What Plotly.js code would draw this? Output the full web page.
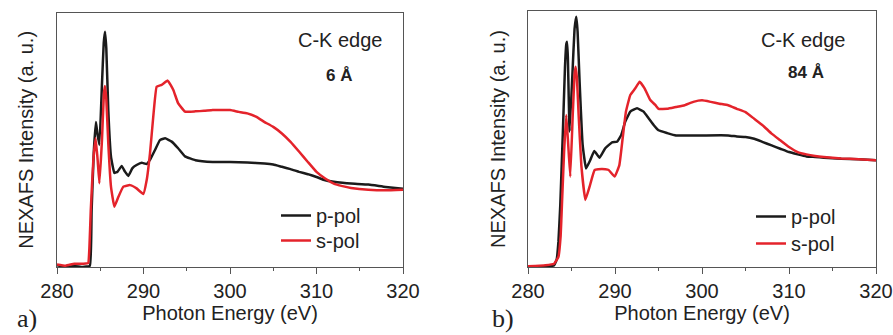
<!DOCTYPE html>
<html>
<head>
<meta charset="utf-8">
<script src="https://cdn.plot.ly/plotly-3.0.1.min.js"></script>
<style>html,body{margin:0;padding:0;background:#fff;}#chart{width:893px;height:335px;}</style>
</head>
<body>
<div id="chart"></div>
<script>
// Panel a) 6 Å — p-pol
const eA_p = [280,281,282,283,283.8,284.0,284.25,284.5,284.65,284.9,285.2,285.4,285.55,285.7,285.93,286.24,286.63,287.0,287.48,287.86,288.25,288.7,289.2,289.8,290.37,290.75,291.33,291.9,292.5,293.26,294.0,294.8,296,298,300,302,304,305,306,307,308,309,310,311,312,313,314,316,318,320];
const iA_p = [0.7,0,0.4,0,0.5,22,45,57,53,48,72,88,92.5,86,61.7,43.4,37,37.5,39.7,37.5,35.8,38.8,40.1,41,40.5,42.1,46,49.9,50.6,49.3,46.7,43.5,42,41.3,41.3,41.1,40.7,40.3,39.4,38.5,37.4,36.5,35.4,34.1,33.5,33.1,32.8,32.4,31.5,30.8];
// Panel a) 6 Å — s-pol
const eA_s = [280,281,282,283,283.6,283.75,283.9,284.2,284.47,284.7,284.9,285.2,285.42,285.55,285.7,285.93,286.24,286.63,287.1,287.67,288.44,289.2,289.98,290.37,290.75,291.13,291.52,292.1,292.8,293.45,294.0,294.8,296,297,298,299,300,301,302,303,304,305,306,307,308,309,310,311,312,313,314,316,318,320];
const iA_s = [1,0.5,1.3,1.3,1.5,8,22,42,50.6,42,32.9,50,68,71.2,66,48.6,31.6,23.7,27.6,31.6,32.2,30.9,28.7,34.2,44.7,59.1,70.9,71.6,73.3,69.6,64.4,61.1,61.2,61.4,61.7,61.7,61.7,61,60.4,59.1,57,55.1,52.5,49.2,45.3,41.3,37.4,34.8,32.8,31.8,31.1,30.4,30.2,30.4];
// Panel b) 84 Å — p-pol
const eB_p = [280,282,283,283.3,283.5,283.71,284.0,284.25,284.4,284.48,284.58,284.78,285.1,285.35,285.55,285.7,285.93,286.28,286.67,287.16,287.62,288.23,288.88,289.66,290.23,290.72,291.18,291.76,292.53,293.29,293.86,294.44,295,296,297,300,303,304,305,306,307,308,309,310,311,312,313,314,316,318,320];
const iB_p = [0,0,0.7,3,10,24.2,52,78,87,88,82,52.9,75,93,97.8,92,72.4,47.7,38.5,41.8,45.3,42.7,46.4,48.7,48.9,51.6,56.8,60.7,62,60.7,58.1,55.5,53.4,52.3,51.4,51.4,51.4,51,50.8,50.1,48.8,47.5,46.2,44.9,44,43.2,43,42.7,42.3,42.1,41.7];
// Panel b) 84 Å — s-pol
const eB_s = [280,282,283,283.5,283.75,283.9,284.15,284.4,284.62,284.86,285.15,285.35,285.47,285.62,285.82,286.13,286.59,287.08,287.66,288.5,289.27,289.96,290.5,290.88,291.26,291.76,292.33,292.83,293.4,294.06,294.63,295,296,297,298,299,300,301,302,303,304,305,306,307,308,309,310,311,312,313,314,316,318,320];
const iB_s = [0.3,0.7,1.3,4,12,24.2,45,59.4,48,35.3,60,75,78.2,74,59.4,39.8,26.2,31.4,37.9,38.3,37.9,35.3,39.8,50.3,60.7,67.2,69.8,72.4,69.8,65.2,63.3,61.8,61.8,62.5,63.2,64.5,65.1,64.5,63.8,63.2,61.8,60.5,57.9,55.3,52.1,49.5,46.9,44.9,44,43.4,43,42.4,42.1,41.7];

const seriesNames = ['p-pol','s-pol'];
const panelLabels = ['a)','b)'];
const thickness = ['6 Å','84 Å'];
const edgeLabel = 'C-K edge';
const xTitle = 'Photon Energy (eV)';
const yTitle = 'NEXAFS Intensity (a. u.)';

const BLACK = '#1b1b1b', RED = '#e4232b';
const FONT = 'Liberation Sans, Arial, sans-serif';
const LINE = {width:2.5, shape:'spline', smoothing:0.3};

const traces = [
  {x:eA_p, y:iA_p, name:seriesNames[0], xaxis:'x', yaxis:'y', legend:'legend', mode:'lines', line:Object.assign({color:BLACK}, LINE)},
  {x:eA_s, y:iA_s, name:seriesNames[1], xaxis:'x', yaxis:'y', legend:'legend2', mode:'lines', line:Object.assign({color:RED}, LINE)},
  {x:eB_p, y:iB_p, name:seriesNames[0], xaxis:'x2', yaxis:'y2', legend:'legend3', mode:'lines', line:Object.assign({color:BLACK}, LINE)},
  {x:eB_s, y:iB_s, name:seriesNames[1], xaxis:'x2', yaxis:'y2', legend:'legend4', mode:'lines', line:Object.assign({color:RED}, LINE)}
];

const W = 893, H = 335, MT = 11, MB = 68, PH = H - MT - MB;
const px = v => v / W;
const py = v => (H - MB - v) / PH;

function xax(dom, anchor) {
  return {domain:dom, anchor:anchor, range:[280,320], dtick:10, tick0:280, ticks:'outside', ticklen:6, tickwidth:1, tickcolor:'#555',
    minor:{dtick:5, ticks:'outside', ticklen:3, tickcolor:'#555'},
    showline:true, linecolor:'#555', linewidth:1, mirror:true, showgrid:false, zeroline:false,
    tickfont:{family:FONT, size:20, color:'#222'},
    title:{text:xTitle, font:{family:FONT, size:20, color:'#222'}, standoff:4}};
}
function topax(over, anchor) {
  return {overlaying:over, anchor:anchor, side:'top', range:[280,320], dtick:10, tick0:280, ticks:'inside', ticklen:6, tickcolor:'#555',
    minor:{dtick:5, ticks:'inside', ticklen:3, tickcolor:'#555'}, showticklabels:false, showline:false, showgrid:false, zeroline:false};
}
function yax(dom, anchor) {
  return {domain:dom, anchor:anchor, range:[0,100], showticklabels:false, ticks:'', showline:true, linecolor:'#555', linewidth:1, mirror:true,
    showgrid:false, zeroline:false, title:{text:yTitle, font:{family:FONT, size:20, color:'#222'}, standoff:16}};
}
function leg(xp, ytop) {
  return {x:px(xp), xanchor:'left', y:py(ytop), yanchor:'top', bgcolor:'rgba(0,0,0,0)', borderwidth:0,
    font:{family:FONT, size:20, color:'#222'}, itemwidth:30, tracegroupgap:0};
}
function ann(text, x, y, size, bold, family) {
  return {text: bold ? '<b>' + text + '</b>' : text, xref:'paper', yref:'paper', x:px(x), y:py(y), xanchor:'center', yanchor:'middle',
    showarrow:false, font:{family:family || FONT, size:size, color:'#222'}};
}

const layout = {
  width:W, height:H, margin:{l:0, r:0, t:MT, b:MB}, paper_bgcolor:'#fff', plot_bgcolor:'#fff',
  font:{family:FONT, color:'#222'},
  xaxis: xax([px(57), px(403)], 'y'),
  yaxis: yax([0, py(12.7)], 'x'),
  xaxis3: topax('x', 'y'),
  xaxis2: xax([px(528), px(876)], 'y2'),
  yaxis2: yax([0, 1], 'x2'),
  xaxis4: topax('x2', 'y2'),
  legend:  leg(276, 196),
  legend2: leg(276, 221),
  legend3: leg(751, 197),
  legend4: leg(751, 224),
  annotations: [
    ann(edgeLabel, 340, 40, 20),
    ann(thickness[0], 338.5, 75, 17, true),
    ann(edgeLabel, 803, 39.5, 20),
    ann(thickness[1], 806, 72, 17, true),
    ann(panelLabels[0], 27, 318, 26, false, 'Liberation Serif, Times New Roman, serif'),
    ann(panelLabels[1], 503, 318, 26, false, 'Liberation Serif, Times New Roman, serif')
  ],
  showlegend:true
};

Plotly.newPlot('chart', traces, layout, {staticPlot:true, displayModeBar:false});
</script>
</body>
</html>
